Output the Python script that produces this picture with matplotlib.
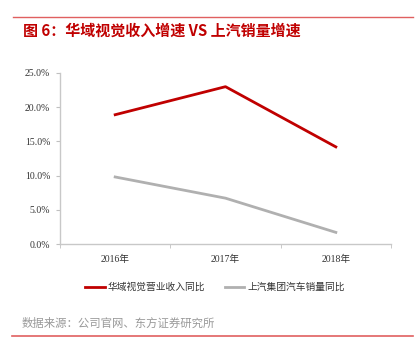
import matplotlib
matplotlib.use("Agg")
import matplotlib.pyplot as plt
from matplotlib.ticker import FuncFormatter, FixedLocator
from matplotlib.lines import Line2D

categories = ["2016年", "2017年", "2018年"]
huayu = [18.9, 23.0, 14.2]
saic = [9.8, 6.7, 1.7]
yticks = [0, 5, 10, 15, 20, 25]
title = "图 6：华域视觉收入增速 VS 上汽销量增速"
series_names = ["华域视觉营业收入同比", "上汽集团汽车销量同比"]
source = "数据来源：公司官网、东方证券研究所"

CJK = ["Noto Sans CJK SC", "DejaVu Sans"]
SERIF = ["Liberation Serif", "Noto Sans CJK SC"]

fig = plt.figure(figsize=(4.16, 3.57), dpi=100)
W, H = 416, 357

# decorative lines
fig.add_artist(Line2D([13/W, 413/W], [1-17/H, 1-17/H], color="#e06060", lw=1.0))
fig.add_artist(Line2D([12/W, 413/W], [1-336/H, 1-336/H], color="#e06060", lw=1.2))

fig.text(23/W, 1-31/H, title, color="#c00000", fontsize=10.8, fontweight="bold",
         family=CJK, va="center", ha="left")
fig.text(22/W, 1-323/H, source, color="#999999", fontsize=8.2, family=CJK,
         va="center", ha="left")

ax = fig.add_axes([60/W, 1-244/H, 331/W, 171/H])
x = list(range(len(categories)))
ax.plot(x, huayu, color="#c00000", lw=2.0, label=series_names[0])
ax.plot(x, saic, color="#b0b0b0", lw=2.0, label=series_names[1])

ax.set_xlim(-0.5, len(categories) - 0.5)
ax.set_ylim(0, 25)
ax.set_yticks(yticks)
ax.yaxis.set_major_formatter(FuncFormatter(lambda v, p: f"{v:.1f}%"))
ax.set_xticks(x)
ax.set_xticklabels(categories)
ax.xaxis.set_minor_locator(FixedLocator([-0.5, 0.5, 1.5, 2.5]))
ax.tick_params(axis="x", which="major", length=0, pad=8, labelsize=7, colors="#333333")
ax.tick_params(axis="x", which="minor", length=3, color="#c0c0c0")
ax.tick_params(axis="y", length=3, color="#c0c0c0", labelsize=7, colors="#333333", pad=4)
for lab in ax.get_xticklabels() + ax.get_yticklabels():
    lab.set_family(SERIF)
    lab.set_color("#333333")
for s in ["top", "right"]:
    ax.spines[s].set_visible(False)
for s in ["left", "bottom"]:
    ax.spines[s].set_color("#c8c8c8")
    ax.spines[s].set_linewidth(1.0)

leg = fig.legend(loc="center", bbox_to_anchor=(215/W, 1-287/H), ncol=2, frameon=False,
                 prop={"family": CJK, "size": 7}, handlelength=2.0, handletextpad=0.3,
                 columnspacing=2.0)
for t in leg.get_texts():
    t.set_color("#333333")

fig.savefig("out.png", dpi=100)
